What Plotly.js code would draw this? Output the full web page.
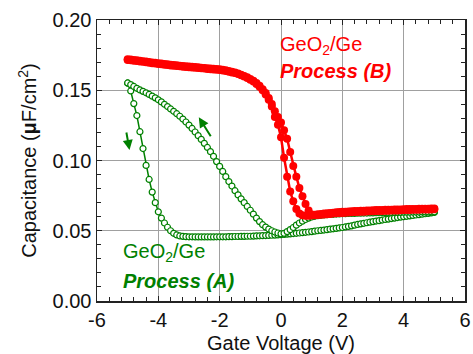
<!DOCTYPE html>
<html>
<head>
<meta charset="utf-8">
<script src="https://cdn.plot.ly/plotly-3.0.1.min.js"></script>
<style>html,body{margin:0;padding:0;background:#fff;}#chart{width:473px;height:354px;}</style>
</head>
<body>
<div id="chart"></div>
<script>
// Gate voltage sweep points (V)
const voltage = [-5.0,-4.9,-4.8,-4.7,-4.6,-4.5,-4.4,-4.3,-4.2,-4.1,-4.0,-3.9,-3.8,-3.7,-3.6,-3.5,-3.4,-3.3,-3.2,-3.1,-3.0,-2.9,-2.8,-2.7,-2.6,-2.5,-2.4,-2.3,-2.2,-2.1,-2.0,-1.9,-1.8,-1.7,-1.6,-1.5,-1.4,-1.3,-1.2,-1.1,-1.0,-0.9,-0.8,-0.7,-0.6,-0.5,-0.4,-0.3,-0.2,-0.1,0.0,0.1,0.2,0.3,0.4,0.5,0.6,0.7,0.8,0.9,1.0,1.1,1.2,1.3,1.4,1.5,1.6,1.7,1.8,1.9,2.0,2.1,2.2,2.3,2.4,2.5,2.6,2.7,2.8,2.9,3.0,3.1,3.2,3.3,3.4,3.5,3.6,3.7,3.8,3.9,4.0,4.1,4.2,4.3,4.4,4.5,4.6,4.7,4.8,4.9,5.0];

// Process (A), sweep -5 -> +5 (uF/cm2)
const procA_forward = [0.1550,0.1495,0.1405,0.1320,0.1205,0.1085,0.0965,0.0865,0.0775,0.0700,0.0635,0.0590,0.0555,0.0525,0.0500,0.0482,0.0470,0.0463,0.0460,0.0458,0.0457,0.0457,0.0456,0.0456,0.0456,0.0456,0.0456,0.0456,0.0456,0.0457,0.0457,0.0457,0.0457,0.0458,0.0458,0.0459,0.0459,0.0460,0.0460,0.0461,0.0461,0.0462,0.0463,0.0464,0.0465,0.0466,0.0467,0.0468,0.0469,0.0470,0.0472,0.0474,0.0476,0.0478,0.0480,0.0482,0.0484,0.0486,0.0489,0.0491,0.0494,0.0497,0.0500,0.0502,0.0505,0.0508,0.0511,0.0514,0.0517,0.0520,0.0523,0.0527,0.0531,0.0535,0.0540,0.0545,0.0549,0.0553,0.0557,0.0561,0.0565,0.0569,0.0572,0.0576,0.0580,0.0583,0.0587,0.0590,0.0594,0.0597,0.0600,0.0603,0.0606,0.0609,0.0612,0.0615,0.0618,0.0621,0.0624,0.0627,0.0630];

// Process (A), sweep +5 -> -5 (listed by voltage)
const procA_reverse = [0.1552,0.1540,0.1527,0.1514,0.1502,0.1492,0.1482,0.1470,0.1458,0.1446,0.1432,0.1417,0.1400,0.1384,0.1367,0.1350,0.1333,0.1315,0.1295,0.1274,0.1252,0.1228,0.1203,0.1177,0.1150,0.1122,0.1093,0.1063,0.1030,0.0992,0.0958,0.0922,0.0885,0.0850,0.0818,0.0785,0.0755,0.0727,0.0700,0.0673,0.0646,0.0618,0.0590,0.0565,0.0543,0.0526,0.0512,0.0500,0.0491,0.0484,0.0478,0.0482,0.0494,0.0508,0.0523,0.0540,0.0555,0.0568,0.0580,0.0590,0.0598,0.0603,0.0607,0.0610,0.0612,0.0614,0.0616,0.0617,0.0619,0.0620,0.0621,0.0622,0.0623,0.0623,0.0624,0.0625,0.0625,0.0626,0.0626,0.0627,0.0627,0.0628,0.0628,0.0629,0.0629,0.0630,0.0630,0.0631,0.0631,0.0631,0.0632,0.0632,0.0632,0.0633,0.0633,0.0633,0.0634,0.0634,0.0634,0.0635,0.0635];

// Process (B), sweep -5 -> +5
const procB_forward = [0.1715,0.1713,0.1710,0.1708,0.1705,0.1702,0.1699,0.1696,0.1693,0.1690,0.1687,0.1685,0.1682,0.1680,0.1677,0.1675,0.1673,0.1670,0.1668,0.1666,0.1664,0.1662,0.1660,0.1658,0.1656,0.1654,0.1652,0.1650,0.1648,0.1646,0.1644,0.1641,0.1637,0.1632,0.1627,0.1622,0.1615,0.1606,0.1597,0.1587,0.1575,0.1562,0.1545,0.1525,0.1500,0.1470,0.1432,0.1385,0.1310,0.1255,0.1165,0.1020,0.0885,0.0780,0.0710,0.0655,0.0622,0.0610,0.0606,0.0606,0.0608,0.0610,0.0612,0.0614,0.0616,0.0618,0.0620,0.0622,0.0624,0.0626,0.0627,0.0629,0.0630,0.0631,0.0633,0.0634,0.0635,0.0636,0.0637,0.0638,0.0639,0.0640,0.0641,0.0641,0.0642,0.0643,0.0644,0.0645,0.0645,0.0646,0.0647,0.0647,0.0648,0.0649,0.0649,0.0650,0.0651,0.0651,0.0652,0.0652,0.0653];

// Process (B), sweep +5 -> -5 (listed by voltage)
const procB_reverse = [0.1720,0.1718,0.1715,0.1713,0.1710,0.1707,0.1704,0.1701,0.1698,0.1695,0.1692,0.1690,0.1687,0.1685,0.1682,0.1680,0.1678,0.1675,0.1673,0.1671,0.1669,0.1667,0.1665,0.1663,0.1661,0.1659,0.1657,0.1655,0.1653,0.1651,0.1649,0.1646,0.1642,0.1637,0.1632,0.1627,0.1620,0.1611,0.1602,0.1592,0.1580,0.1567,0.1551,0.1532,0.1508,0.1480,0.1445,0.1402,0.1350,0.1310,0.1270,0.1215,0.1155,0.1060,0.0960,0.0885,0.0805,0.0745,0.0690,0.0645,0.0615,0.0614,0.0617,0.0619,0.0622,0.0625,0.0627,0.0629,0.0631,0.0633,0.0635,0.0636,0.0637,0.0638,0.0640,0.0641,0.0642,0.0643,0.0644,0.0645,0.0646,0.0647,0.0647,0.0648,0.0649,0.0650,0.0650,0.0651,0.0652,0.0652,0.0653,0.0654,0.0654,0.0655,0.0655,0.0656,0.0656,0.0657,0.0657,0.0658,0.0658];

const xTickVals = [-6,-4,-2,0,2,4,6];
const xTickText = ['-6','-4','-2','0','2','4','6'];
const yTickVals = [0,0.05,0.10,0.15,0.20];
const yTickText = ['0.00','0.05','0.10','0.15','0.20'];

const GREEN = '#008000';
const RED = '#ff0000';
const FONT = 'Arial, "Liberation Sans", sans-serif';

function greenTrace(y){
  return {x: voltage, y: y, type:'scatter', mode:'lines+markers',
    line:{color:GREEN, width:1.5},
    marker:{symbol:'circle', size:6, color:'#ffffff', line:{color:GREEN, width:1.2}},
    hoverinfo:'skip', showlegend:false};
}
function redTrace(y){
  return {x: voltage, y: y, type:'scatter', mode:'lines+markers',
    line:{color:RED, width:2.5},
    marker:{symbol:'circle', size:8, color:RED},
    hoverinfo:'skip', showlegend:false};
}

const data = [greenTrace(procA_forward), greenTrace(procA_reverse), redTrace(procB_forward), redTrace(procB_reverse)];

const axisCommon = {
  showline:true, linecolor:'#222222', linewidth:1.5, mirror:'ticks',
  ticks:'inside', ticklen:5, tickwidth:1, tickcolor:'#222222',
  showgrid:true, gridcolor:'#a0a0a0', gridwidth:1, zeroline:false,
  tickfont:{family:FONT, size:20, color:'#111'},
  fixedrange:true
};

const layout = {
  width:473, height:354,
  margin:{l:97, r:8, t:20, b:53},
  paper_bgcolor:'#ffffff', plot_bgcolor:'#ffffff',
  font:{family:FONT, size:20, color:'#111'},
  xaxis: Object.assign({}, axisCommon, {
    range:[-6,6], tickmode:'array', tickvals:xTickVals, ticktext:xTickText,
    minor:{dtick:0.4, tick0:-6, ticks:'inside', ticklen:4, tickcolor:'#222222', showgrid:false},
    title:{text:'Gate Voltage (V)', font:{family:FONT, size:20, color:'#111'}, standoff:6}
  }),
  yaxis: Object.assign({}, axisCommon, {
    range:[0,0.2], tickmode:'array', tickvals:yTickVals, ticktext:yTickText,
    minor:{dtick:0.01, tick0:0, ticks:'inside', ticklen:4, tickcolor:'#222222', showgrid:false},
    title:{text:'Capacitance (<b>μ</b>F/cm<sup>2</sup>)', font:{family:FONT, size:20, color:'#111'}, standoff:10}
  }),
  annotations:[
    {xref:'x', yref:'y', x:-0.1, y:0.1822, xanchor:'left', yanchor:'middle', showarrow:false,
     text:'GeO<sub>2</sub>/Ge', font:{family:FONT, size:20, color:RED}},
    {xref:'x', yref:'y', x:-0.1, y:0.1637, xanchor:'left', yanchor:'middle', showarrow:false,
     text:'<b><i>Process (B)</i></b>', font:{family:FONT, size:20, color:RED}},
    {xref:'x', yref:'y', x:-5.22, y:0.0342, xanchor:'left', yanchor:'middle', showarrow:false,
     text:'GeO<sub>2</sub>/Ge', font:{family:FONT, size:20, color:GREEN}},
    {xref:'x', yref:'y', x:-5.22, y:0.0142, xanchor:'left', yanchor:'middle', showarrow:false,
     text:'<b><i>Process (A)</i></b>', font:{family:FONT, size:20, color:GREEN}},
    {xref:'x', yref:'y', axref:'x', ayref:'y', x:-4.94, y:0.1075, ax:-5.05, ay:0.121, text:'',
     showarrow:true, arrowhead:2, arrowsize:1, arrowwidth:2, arrowcolor:GREEN},
    {xref:'x', yref:'y', axref:'x', ayref:'y', x:-2.68, y:0.1307, ax:-2.26, ay:0.1162, text:'',
     showarrow:true, arrowhead:2, arrowsize:1, arrowwidth:2, arrowcolor:GREEN}
  ]
};

Plotly.newPlot('chart', data, layout, {staticPlot:true, displayModeBar:false});
</script>
</body>
</html>
